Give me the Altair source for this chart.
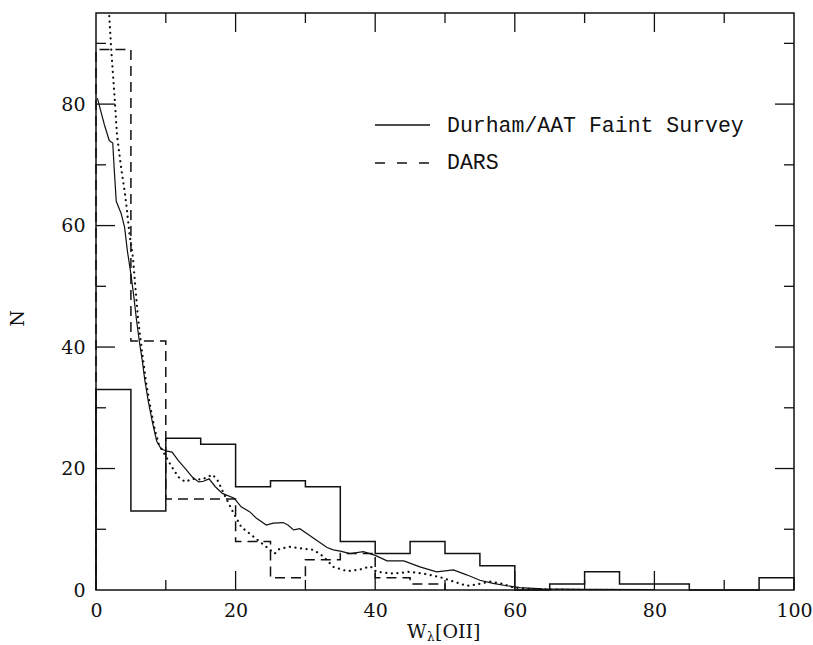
import altair as alt
import pandas as pd

# ---------------- data ----------------
bin_edges = list(range(0, 105, 5))  # 0,5,...,100
durham_counts = [33, 13, 25, 24, 17, 18, 17, 8, 6, 8, 6, 4, 0, 1, 3, 1, 1, 0, 0, 2]
dars_edges = list(range(0, 55, 5))  # 0..50
dars_counts = [89, 41, 15, 15, 8, 2, 5, 6, 2, 1]

solid_x = [0.2, 1.2, 1.9, 2.4, 2.6, 2.9, 3.6, 4.1, 4.5, 5.0, 5.4, 5.8, 6.2, 6.6, 7.0, 7.5,
           8.1, 8.7, 9.3, 10.0, 10.9, 11.8, 12.8, 13.8, 14.7, 15.4, 16.2, 17.1, 18.1, 19.8,
           20.8, 22.0, 23.0, 24.4, 25.4, 26.8, 27.5, 28.3, 29.2, 30.2, 31.6, 33.1, 34.0, 35.0,
           36.4, 38.3, 40.0, 41.7, 44.1, 46.4, 48.8, 51.2, 53.1, 55.0, 56.9, 58.8, 60.7, 64.0,
           70.0, 80.0]
solid_y = [81.0, 76.6, 74.0, 73.6, 69.5, 64.0, 62.0, 59.7, 55.8, 52.0, 48.5, 44.5, 41.0, 38.0,
           34.5, 31.0, 27.5, 24.5, 23.3, 22.9, 22.7, 21.3, 20.0, 18.6, 17.8, 17.9, 18.3, 17.0,
           15.9, 15.1, 13.7, 12.9, 11.8, 10.7, 11.0, 11.1, 10.7, 9.9, 10.1, 9.3, 8.2, 7.0, 6.6,
           6.4, 6.0, 6.3, 5.7, 4.8, 4.8, 3.8, 3.0, 3.3, 2.5, 1.6, 1.1, 0.7, 0.4, 0.2, 0.1, 0.05]

dotted_x = [1.9, 2.2, 2.7, 3.0, 3.6, 4.1, 4.4, 4.8, 5.3, 5.6, 6.0, 6.3, 6.7, 7.2, 7.8, 8.4,
            9.0, 9.9, 10.9, 11.8, 12.8, 13.8, 15.2, 16.7, 17.4, 18.3, 19.6, 20.8, 22.0, 23.2,
            24.4, 25.6, 26.3, 27.8, 29.7, 31.2, 32.6, 34.0, 36.0, 37.9, 39.3, 40.2, 42.6, 45.0,
            47.4, 49.3, 51.2, 53.1, 54.5, 56.5, 58.3, 59.8, 61.7, 66.0, 75.0]
dotted_y = [94.5, 88.7, 80.5, 75.0, 69.5, 65.7, 62.9, 58.6, 54.7, 50.4, 45.0, 42.0, 38.3, 34.0,
            30.0, 26.5, 24.0, 22.2, 20.2, 18.6, 17.8, 18.3, 18.2, 19.0, 18.1, 15.9, 12.9, 10.4,
            9.3, 8.2, 7.1, 6.0, 6.8, 7.1, 6.8, 6.6, 5.5, 3.8, 3.1, 3.4, 3.9, 3.0, 2.7, 3.0, 2.6,
            2.1, 1.4, 0.7, 0.9, 1.4, 1.0, 0.4, 0.2, 0.05, 0.0]

x_major = [20, 40, 60, 80]
x_minor = [10, 30, 50, 70, 90]
y_major = [20, 40, 60, 80]
y_minor = [10, 30, 50, 70, 90]
x_labels = [0, 20, 40, 60, 80, 100]
y_labels = [0, 20, 40, 60, 80]

legend_labels = ["Durham/AAT Faint Survey", "DARS"]

# ---------------- helpers ----------------
W, H = 698, 577
FONT = "DejaVu Serif"
INK = "#111111"


def step_frame(edges, counts):
    xs = [edges[0], edges[0]]
    ys = [0, counts[0]]
    for e, c in zip(edges[1:-1], counts[1:]):
        xs.append(e)
        ys.append(c)
    xs += [edges[-1], edges[-1]]
    ys += [counts[-1], 0]
    return pd.DataFrame({"x": xs, "y": ys, "i": list(range(len(xs)))})


xs = alt.Scale(domain=[0, 100], nice=False, zero=False)
ys = alt.Scale(domain=[0, 95], nice=False, zero=False)
x_axis = alt.Axis(values=x_labels, title=None, ticks=False, tickSize=0, domain=False,
                  grid=False, labelPadding=11, labelFlush=False,
                  labelFont=FONT, labelFontSize=19, labelColor=INK)
y_axis = alt.Axis(values=y_labels, title="N", ticks=False, tickSize=0, domain=False,
                  grid=False, labelPadding=11, titleX=-79, titleY=305,
                  titleBaseline="middle", titleFontWeight="normal", labelFlush=False,
                  labelFont=FONT, labelFontSize=19, labelColor=INK,
                  titleFont=FONT, titleFontSize=19, titleColor=INK)
X = alt.X("x:Q", scale=xs, axis=x_axis)
Y = alt.Y("y:Q", scale=ys, axis=y_axis)

durham_df = step_frame(bin_edges, durham_counts)
dars_df = step_frame(dars_edges, dars_counts)
solid_df = pd.DataFrame({"x": solid_x, "y": solid_y})
dotted_df = pd.DataFrame({"x": dotted_x, "y": dotted_y})

durham = alt.Chart(durham_df).mark_line(interpolate="step-after", color=INK, strokeWidth=1.5).encode(
    x=X, y=Y, order="i:Q")
dars = alt.Chart(dars_df).mark_line(interpolate="step-after", color=INK, strokeWidth=1.5,
                                    strokeDash=[10, 6]).encode(x=X, y=Y, order="i:Q")
solid = alt.Chart(solid_df).mark_line(color=INK, strokeWidth=1.2, clip=True).encode(x=X, y=Y)
dotted = alt.Chart(dotted_df).mark_line(color=INK, strokeWidth=2.2, strokeDash=[0.1, 5.5],
                                        strokeCap="round", clip=True).encode(x=X, y=Y)


# inward ticks on all four sides
def xticks(vals, length):
    d = pd.DataFrame({"x": vals})
    bottom = alt.Chart(d).mark_rule(color=INK, strokeWidth=1.3).encode(
        x=X, y=alt.value(H), y2=alt.value(H - length))
    top = alt.Chart(d).mark_rule(color=INK, strokeWidth=1.3).encode(
        x=X, y=alt.value(0), y2=alt.value(length))
    return bottom + top


def yticks(vals, length):
    d = pd.DataFrame({"y": vals})
    left = alt.Chart(d).mark_rule(color=INK, strokeWidth=1.3).encode(
        y=Y, x=alt.value(0), x2=alt.value(length))
    right = alt.Chart(d).mark_rule(color=INK, strokeWidth=1.3).encode(
        y=Y, x=alt.value(W), x2=alt.value(W - length))
    return left + right


ticks = xticks(x_major, 19) + xticks(x_minor, 10) + yticks(y_major, 19) + yticks(y_minor, 10)

# legend
leg_solid = alt.Chart(pd.DataFrame({"a": [0]})).mark_rule(color=INK, strokeWidth=1.3).encode(
    x=alt.value(279), x2=alt.value(334), y=alt.value(112))
leg_dash = alt.Chart(pd.DataFrame({"a": [0]})).mark_rule(color=INK, strokeWidth=1.3,
                                                         strokeDash=[10, 12]).encode(
    x=alt.value(279), x2=alt.value(334), y=alt.value(150))
leg_df = pd.DataFrame({"t": legend_labels})
leg_text1 = alt.Chart(leg_df.iloc[[0]]).mark_text(
    font="Liberation Mono", fontSize=21.5, align="left", baseline="middle", color=INK).encode(
    text="t:N", x=alt.value(351), y=alt.value(113))
leg_text2 = alt.Chart(leg_df.iloc[[1]]).mark_text(
    font="Liberation Mono", fontSize=21.5, align="left", baseline="middle", color=INK).encode(
    text="t:N", x=alt.value(351), y=alt.value(150))

# x-axis title W_lambda[OII]
xt = pd.DataFrame({"t": ["W", "\u03bb", "[OII]"]})
xt_w = alt.Chart(xt.iloc[[0]]).mark_text(font=FONT, fontSize=19, align="left",
                                         baseline="alphabetic", color=INK).encode(
    text="t:N", x=alt.value(311), y=alt.value(625))
xt_l = alt.Chart(xt.iloc[[1]]).mark_text(font=FONT, fontSize=12, align="left",
                                         baseline="alphabetic", color=INK).encode(
    text="t:N", x=alt.value(331), y=alt.value(628))
xt_o = alt.Chart(xt.iloc[[2]]).mark_text(font=FONT, fontSize=19, align="left",
                                         baseline="alphabetic", color=INK).encode(
    text="t:N", x=alt.value(339), y=alt.value(625))

chart = alt.layer(
    durham, dars, solid, dotted, ticks, leg_solid, leg_dash, leg_text1, leg_text2,
    xt_w, xt_l, xt_o
).properties(
    width=W, height=H,
    padding={"left": 96, "top": 13, "right": 19, "bottom": 55},
    autosize=alt.AutoSizeParams(type="none"),
    background="white",
).configure_view(
    stroke=INK, strokeWidth=1.5
)

chart.save("out.html", embed_options={"renderer": "svg", "actions": False})
